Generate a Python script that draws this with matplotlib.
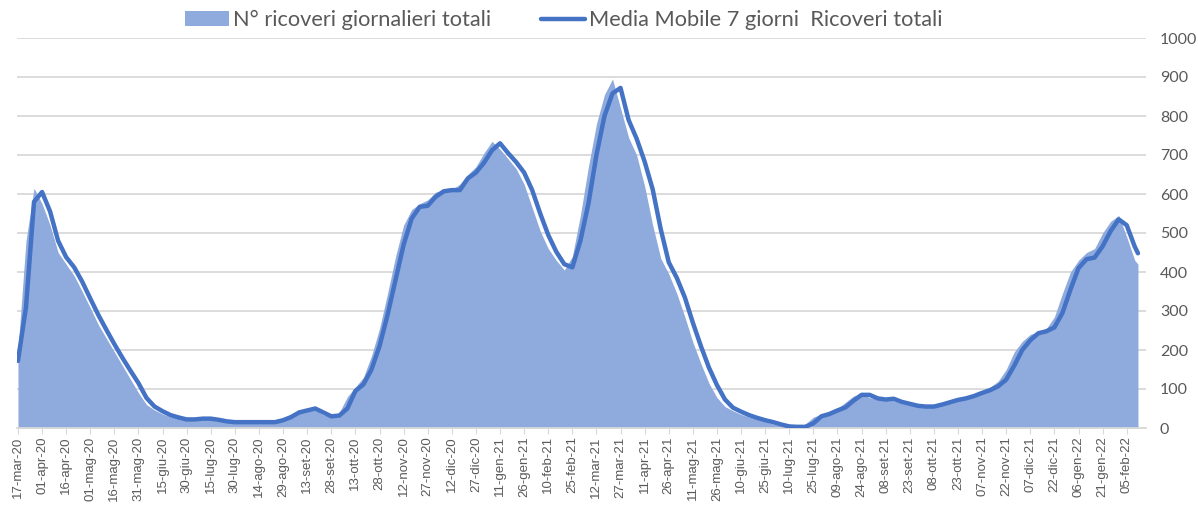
import matplotlib.pyplot as plt
import numpy as np

plt.rcParams['font.family'] = ['Lato', 'DejaVu Sans']

# giorni dal 17-mar-20, un campione ogni 5 giorni (+ ultimo giorno)
giorni = list(range(0, 696, 5)) + [697]

# N° ricoveri giornalieri totali
ricoveri = [
    200, 480, 615, 575, 520, 450, 420, 390, 350, 308, 265, 230, 195, 160, 125, 90,
    60, 46, 36, 28, 24, 22, 24, 25, 22, 18, 16, 15, 15, 15, 15, 15, 17, 25, 36, 43,
    48, 46, 34, 28, 40, 80, 105, 130, 185, 255, 345, 440, 520, 560, 575, 585, 605, 610,
    612, 625, 650, 670, 705, 735, 715, 690, 665, 625, 565, 505, 460, 430, 405, 440, 545, 670,
    780, 855, 895, 820, 745, 700, 620, 520, 435, 395, 345, 285, 220, 165, 115, 78,
    55, 44, 35, 28, 22, 16, 10, 5, 3, 3, 10, 28, 35, 42, 50, 66, 82, 88, 78, 74,
    74, 70, 63, 58, 56, 55, 58, 64, 70, 75, 80, 88, 95, 105, 120, 150, 195, 222,
    240, 247, 255, 285, 345, 400, 430, 450, 460, 500, 530, 545, 490, 430, 420,
]

# Media mobile 7 giorni
media_mobile = [
    172, 310, 580, 605, 555, 480, 438, 412, 375, 332, 290, 252, 215, 180, 147, 115,
    77, 55, 43, 33, 27, 22, 22, 24, 24, 21, 17, 15, 15, 15, 15, 15, 15, 20, 28, 40,
    45, 50, 40, 30, 32, 50, 95, 112, 150, 210, 290, 380, 470, 537, 567, 570, 593, 607,
    610, 610, 640, 655, 680, 712, 730, 705, 682, 655, 610, 550, 495, 452, 420, 412, 480, 575,
    700, 800, 858, 872, 790, 742, 683, 612, 510, 425, 385, 335, 270, 210, 155, 110,
    73, 52, 42, 33, 26, 20, 15, 9, 4, 3, 3, 12, 30, 36, 45, 53, 70, 85, 85, 76,
    73, 75, 67, 62, 57, 55, 55, 60, 66, 72, 76, 82, 90, 97, 107, 124, 160, 200,
    225, 243, 248, 258, 295, 355, 410, 433, 437, 466, 505, 535, 520, 465, 448,
]

etichette = [
    '17-mar-20', '01-apr-20', '16-apr-20', '01-mag-20', '16-mag-20', '31-mag-20',
    '15-giu-20', '30-giu-20', '15-lug-20', '30-lug-20', '14-ago-20', '29-ago-20',
    '13-set-20', '28-set-20', '13-ott-20', '28-ott-20', '12-nov-20', '27-nov-20',
    '12-dic-20', '27-dic-20', '11-gen-21', '26-gen-21', '10-feb-21', '25-feb-21',
    '12-mar-21', '27-mar-21', '11-apr-21', '26-apr-21', '11-mag-21', '26-mag-21',
    '10-giu-21', '25-giu-21', '10-lug-21', '25-lug-21', '09-ago-21', '24-ago-21',
    '08-set-21', '23-set-21', '08-ott-21', '23-ott-21', '07-nov-21', '22-nov-21',
    '07-dic-21', '22-dic-21', '06-gen-22', '21-gen-22', '05-feb-22',
]
posizioni = [15 * i for i in range(len(etichette))]

fig = plt.figure(figsize=(11.98, 5.05), dpi=100)
ax = fig.add_axes([17 / 1198, 77 / 505, (1146 - 17) / 1198, 390 / 505])

ax.fill_between(giorni, ricoveri, color='#8faadc', lw=0, zorder=2,
                label='N° ricoveri giornalieri totali')
ax.plot(giorni, media_mobile, color='#4472c4', lw=3.2, zorder=3,
        solid_capstyle='round', label='Media Mobile 7 giorni  Ricoveri totali')

ax.set_xlim(-0.6, 702)
ax.set_ylim(0, 1000)
ax.set_yticks(range(0, 1001, 100))
ax.yaxis.tick_right()
ax.tick_params(axis='y', length=0, pad=10, labelsize=11.5, labelcolor='#595959')
ax.grid(axis='y', color='#d9d9d9', lw=1.3, zorder=0)
ax.set_axisbelow(True)

ax.set_xticks(posizioni)
ax.set_xticklabels(etichette, rotation=90, fontsize=9.5, color='#595959',
                   family=['Liberation Sans', 'DejaVu Sans'])
ax.tick_params(axis='x', length=4, color='#d9d9d9', pad=2)

for s in ['top', 'left', 'right']:
    ax.spines[s].set_visible(False)
ax.spines['bottom'].set_color('#d9d9d9')
ax.spines['bottom'].set_linewidth(1.3)

fig.legend(loc='center', bbox_to_anchor=(564 / 1198, 1 - 20 / 505), ncol=2,
           frameon=False, fontsize=15.7, labelcolor='#595959',
           handlelength=2.0, handleheight=0.65, handletextpad=0.2, columnspacing=2.3)

fig.savefig('out.png', dpi=100)
